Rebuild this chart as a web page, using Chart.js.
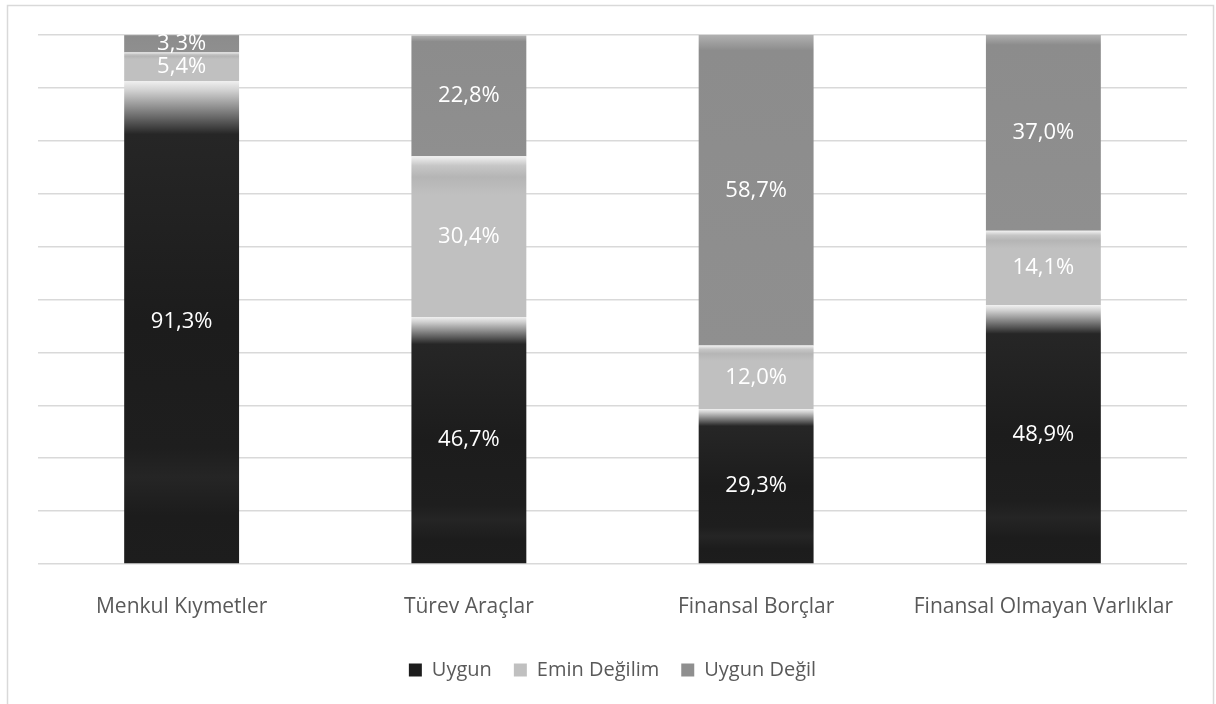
<!DOCTYPE html>
<html>
<head>
<meta charset="utf-8">
<script src="https://cdn.jsdelivr.net/npm/chart.js@4"></script>
<style>
  html, body { margin: 0; padding: 0; background: #fff; }
  #wrap { width: 1216px; height: 704px; position: relative; }
</style>
</head>
<body>
<div id="wrap"><canvas id="chart"></canvas></div>
<script>
const categories = ["Menkul Kıymetler", "Türev Araçlar", "Finansal Borçlar", "Finansal Olmayan Varlıklar"];
const seriesNames = ["Uygun", "Emin Değilim", "Uygun Değil"];
const uygun = [91.3, 46.7, 29.3, 48.9];
const eminDegilim = [5.4, 30.4, 12.0, 14.1];
const uygunDegil = [3.3, 22.8, 58.7, 37.0];
const yTicks = [0, 10, 20, 30, 40, 50, 60, 70, 80, 90, 100];

const allSeries = [uygun, eminDegilim, uygunDegil];
const baseColors = ["#1e1e1e", "#bfbfbf", "#8e8e8e"];
const gradientStops = [
    [[0, "#f0f0f0"], [0.02, "#d0d0d0"], [0.11, "#262626"], [0.5, "#1c1c1c"], [0.76, "#1e1e1e"], [0.82, "#252525"], [0.9, "#1c1c1c"], [1, "#1d1d1d"]],
    [[0, "#f2f2f2"], [0.06, "#c6c6c6"], [0.13, "#b5b5b5"], [0.24, "#c0c0c0"], [1, "#c0c0c0"]],
    [[0, "#b0b0b0"], [0.05, "#8c8c8c"], [1, "#8f8f8f"]]
];

function fmt(v) {
    return v.toFixed(1).replace(".", ",") + "%";
}

// gradient for each stacked segment, positioned through the y scale
function segmentFill(ctx) {
    const s = ctx.datasetIndex;
    if (ctx.type !== "data") return baseColors[s];
    const chart = ctx.chart;
    const y = chart.scales.y;
    if (!chart.chartArea || !y) return baseColors[s];
    let start = 0;
    for (let k = 0; k < s; k++) start += allSeries[k][ctx.dataIndex];
    const end = start + allSeries[s][ctx.dataIndex];
    const top = y.getPixelForValue(end);
    const bottom = y.getPixelForValue(start);
    const g = chart.ctx.createLinearGradient(0, top, 0, bottom);
    gradientStops[s].forEach(([p, c]) => g.addColorStop(p, c));
    return g;
}

const valueLabels = {
    id: "valueLabels",
    afterDatasetsDraw(chart) {
        const c = chart.ctx;
        c.save();
        c.font = "22px 'Open Sans'";
        c.fillStyle = "#ffffff";
        c.textAlign = "center";
        c.textBaseline = "middle";
        chart.data.datasets.forEach((ds, i) => {
            chart.getDatasetMeta(i).data.forEach((bar, j) => {
                c.fillText(fmt(ds.data[j]), bar.x, (bar.y + bar.base) / 2);
            });
        });
        c.restore();
    }
};

const frame = {
    id: "frame",
    beforeDraw(chart) {
        const c = chart.ctx;
        c.save();
        c.strokeStyle = "#d9d9d9";
        c.lineWidth = 1.5;
        c.strokeRect(7.5, 5.5, 1206, 700);
        c.restore();
    }
};

new Chart(document.getElementById("chart"), {
    type: "bar",
    data: {
        labels: categories,
        datasets: seriesNames.map((name, i) => ({
            label: name,
            data: allSeries[i],
            backgroundColor: segmentFill,
            borderWidth: 0,
            barPercentage: 0.8,
            categoryPercentage: 0.5
        }))
    },
    options: {
        responsive: true,
        maintainAspectRatio: false,
        animation: false,
        layout: { padding: { left: 38, right: 29, top: 35, bottom: 14 } },
        plugins: {
            legend: {
                position: "bottom",
                labels: {
                    boxWidth: 13,
                    boxHeight: 13,
                    padding: 22,
                    color: "#595959",
                    font: { family: "'Open Sans'", size: 20 }
                }
            },
            tooltip: { enabled: false }
        },
        scales: {
            x: {
                stacked: true,
                grid: { display: false },
                border: { display: false },
                ticks: {
                    color: "#595959",
                    padding: 22,
                    font: { family: "'Open Sans'", size: 21 }
                },
                afterFit(scale) {
                    scale.height = 74;
                }
            },
            y: {
                stacked: true,
                min: 0,
                max: 100,
                afterBuildTicks(axis) {
                    axis.ticks = yTicks.map(v => ({ value: v }));
                },
                ticks: { display: false },
                grid: { color: "#d9d9d9", lineWidth: 1.5, drawTicks: false },
                border: { display: false }
            }
        }
    },
    plugins: [frame, valueLabels]
});
</script>
</body>
</html>
